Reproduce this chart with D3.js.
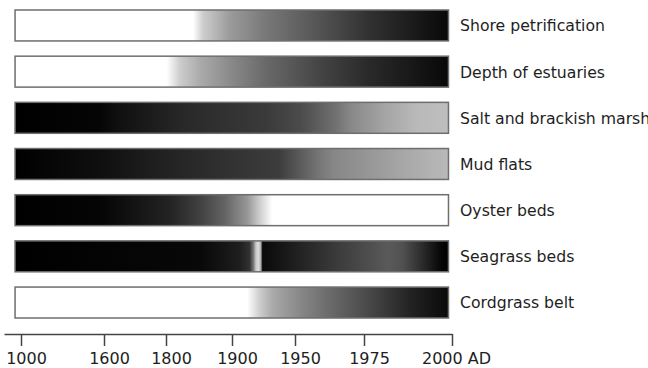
<!DOCTYPE html>
<html>
<head>
<meta charset="utf-8">
<script src="https://cdn.jsdelivr.net/npm/d3@7"></script>
<style>
  html, body { margin: 0; padding: 0; background: #fff; }
  svg { display: block; }
  text { font-family: "DejaVu Sans", Verdana, sans-serif; fill: #1e1e1e; }
</style>
</head>
<body>
<svg id="chart" width="648" height="368"></svg>
<script>
// ---- data ----
const categories = [
  "Shore petrification",
  "Depth of estuaries",
  "Salt and brackish marsh",
  "Mud flats",
  "Oyster beds",
  "Seagrass beds",
  "Cordgrass belt"
];
// tick years on the (non-linear) time axis
const tickYears = [1000, 1600, 1800, 1900, 1950, 1975, 2000];
const tickLabels = ["1000", "1600", "1800", "1900", "1950", "1975", "2000 AD"];
const axisStartYear = 877;
const barStartYear = 957;
const barEndYear = 1999;

// gradient stops per category: [year, grey level 0 = black .. 255 = white]
const shorePetrification = [[957,255],[1841,255],[1856,205],[1897,155],[1927,120],[1958,85],[1976,50],[1990,25],[1999,8]];
const depthOfEstuaries   = [[957,255],[1801,255],[1821,205],[1852,170],[1901,135],[1927,105],[1958,70],[1976,42],[1990,22],[1999,8]];
const saltMarsh          = [[957,0],[1571,5],[1642,15],[1826,40],[1927,58],[1952,75],[1964,110],[1970,135],[1981,165],[1990,185],[1999,190]];
const mudFlats           = [[957,0],[1571,15],[1806,35],[1897,50],[1937,60],[1958,115],[1964,135],[1976,150],[1985,165],[1995,180],[1999,185]];
const oysterBeds         = [[957,0],[1571,5],[1684,18],[1806,35],[1852,65],[1889,100],[1912,150],[1922,205],[1932,255],[1999,255]];
const seagrassBeds       = [[957,0],[1852,8],[1906,30],[1914,50],[1917,120],[1919,200],[1921,220],[1923,170],[1924,20],[1925,10],[1963,55],[1982,90],[1986,80],[1992,40],[1997,5],[1999,0]];
const cordgrassBelt      = [[957,255],[1912,255],[1922,205],[1932,170],[1952,135],[1963,105],[1977,70],[1988,35],[1999,10]];
const seriesStops = [shorePetrification, depthOfEstuaries, saltMarsh, mudFlats, oysterBeds, seagrassBeds, cordgrassBelt];

// ---- layout ----
const svg = d3.select("#chart");
const x = d3.scaleLinear()
  .domain([axisStartYear, ...tickYears])
  .range([4, 21, 104, 166, 232, 295, 364, 452]);
const y = d3.scaleBand()
  .domain(categories)
  .range([10, 318])
  .paddingInner(0.33)
  .paddingOuter(0);

const defs = svg.append("defs");
const x1 = x(barStartYear), x2 = x(barEndYear);

categories.forEach((c, i) => {
  const g = defs.append("linearGradient")
    .attr("id", "grad" + i)
    .attr("gradientUnits", "userSpaceOnUse")
    .attr("x1", x1).attr("x2", x2)
    .attr("y1", 0).attr("y2", 0);
  seriesStops[i].forEach(([yr, lv]) => {
    g.append("stop")
      .attr("offset", Math.max(0, Math.min(1, (x(yr) - x1) / (x2 - x1))))
      .attr("stop-color", d3.rgb(lv, lv, lv));
  });
});

svg.append("g").selectAll("rect")
  .data(categories)
  .join("rect")
  .attr("x", x1)
  .attr("y", d => y(d))
  .attr("width", x2 - x1)
  .attr("height", y.bandwidth())
  .attr("fill", (d, i) => `url(#grad${i})`)
  .attr("stroke", "#6e6e6e")
  .attr("stroke-width", 1.5);

svg.append("g").selectAll("text")
  .data(categories)
  .join("text")
  .attr("x", 460)
  .attr("y", d => y(d) + y.bandwidth() / 2)
  .attr("dy", "0.38em")
  .style("font-size", "15.7px")
  .text(d => d);

// ---- axis ----
const axis = d3.axisBottom(x)
  .tickValues(tickYears)
  .tickFormat((d, i) => tickLabels[i])
  .tickSize(12)
  .tickSizeOuter(0)
  .tickPadding(7);

const ax = svg.append("g")
  .attr("transform", "translate(0,334)")
  .call(axis);
ax.select(".domain").attr("stroke", "#444").attr("stroke-width", 1.5);
ax.selectAll(".tick line").attr("stroke", "#444").attr("stroke-width", 1.5);
ax.selectAll(".tick text")
  .attr("dx", 5)
  .style("font-size", "16px")
  .style("font-family", "'DejaVu Sans', Verdana, sans-serif")
  .attr("fill", "#1e1e1e");
ax.selectAll(".tick text").filter((d, i) => i === tickYears.length - 1).attr("dx", 4);
</script>
</body>
</html>
